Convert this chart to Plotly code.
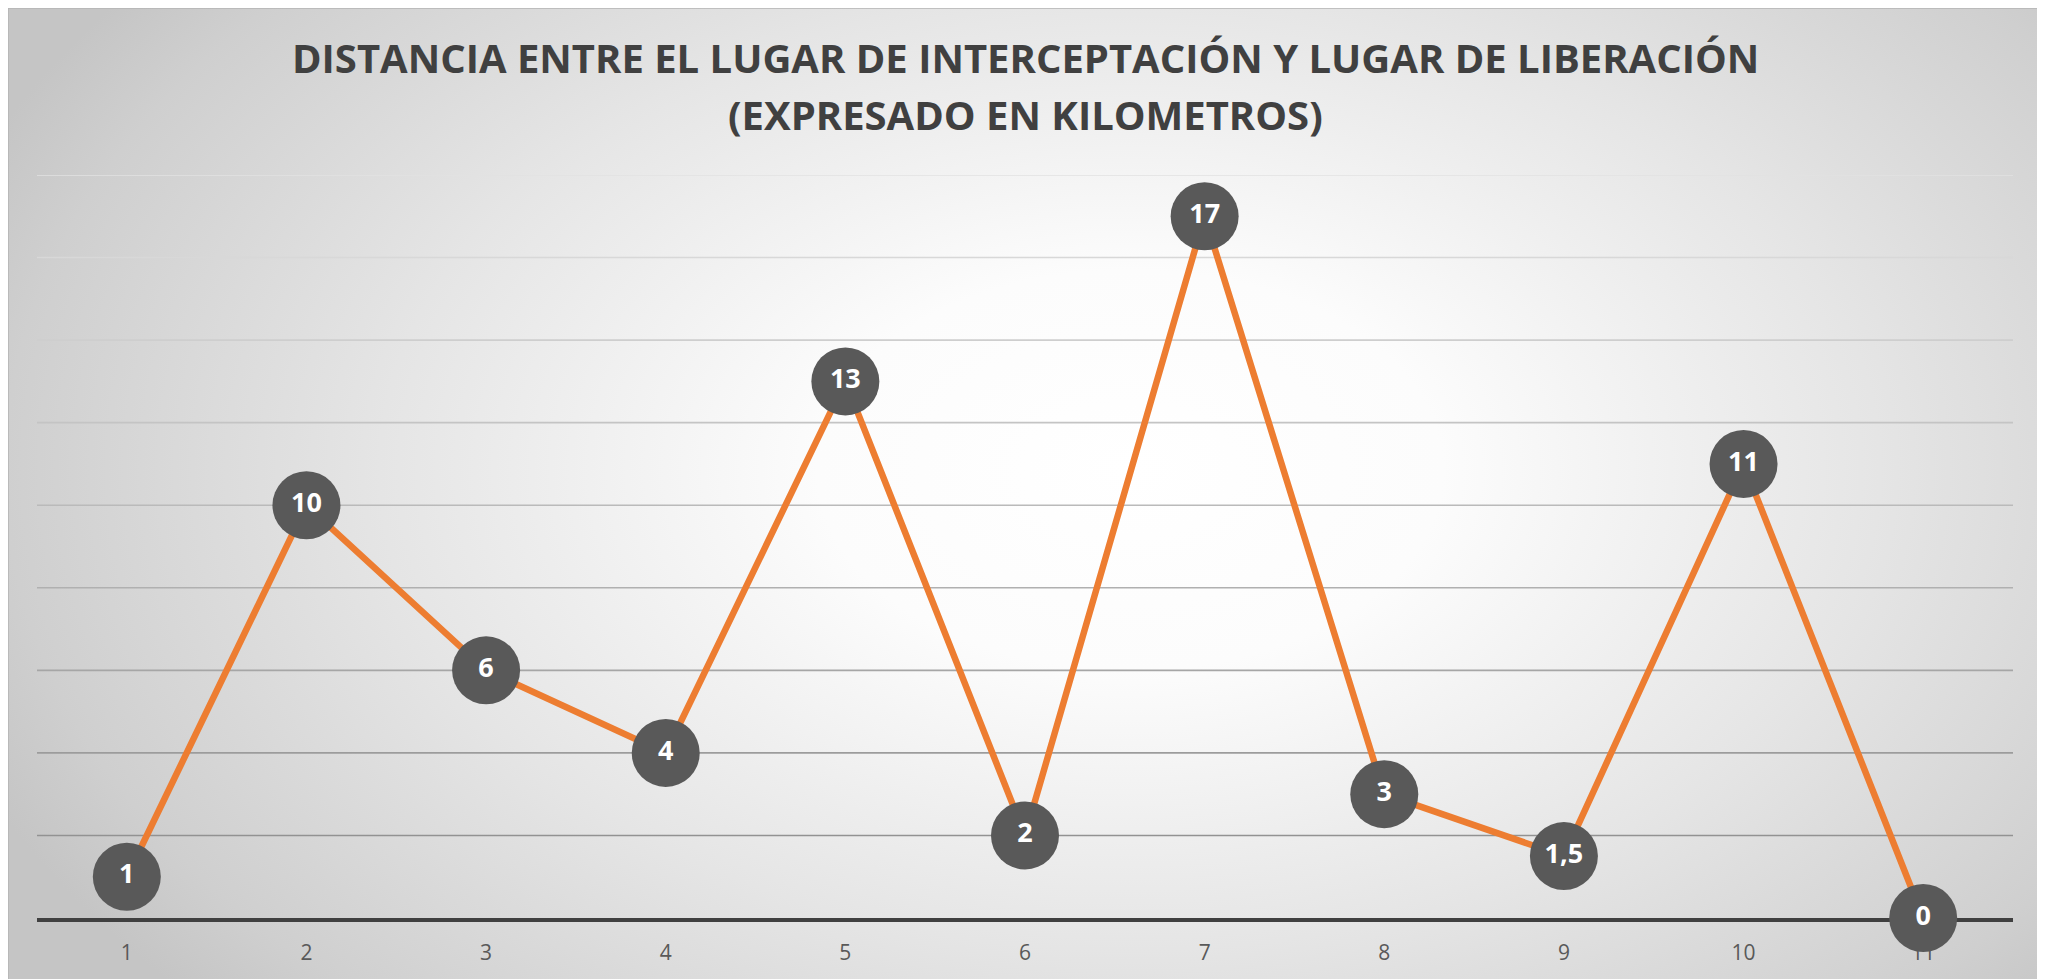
import base64
import plotly.graph_objects as go

# ---- data ----
categories = [1, 2, 3, 4, 5, 6, 7, 8, 9, 10, 11]
distances_km = [1, 10, 6, 4, 13, 2, 17, 3, 1.5, 11, 0]
title_line1 = "DISTANCIA ENTRE EL LUGAR DE INTERCEPTACIÓN Y LUGAR DE LIBERACIÓN"
title_line2 = "(EXPRESADO EN KILOMETROS)"
y_grid_values = list(range(2, 19, 2))

# ---- layout geometry (page has 8px body margin) ----
OFF = 8
W, H = 2045 - OFF, 979 - OFF
ML, MT = 37 - OFF, 175 - OFF
PLOT_RIGHT, PLOT_BOTTOM = 2013 - OFF, 918 - OFF
MR, MB = W - PLOT_RIGHT, H - PLOT_BOTTOM
PW, PH = W - ML - MR, H - MT - MB

cx, cy = 1130 - OFF, 470 - OFF
svg = f'''<svg xmlns="http://www.w3.org/2000/svg" width="{W}" height="{H}" viewBox="0 0 {W} {H}">
<defs><radialGradient id="g" gradientUnits="userSpaceOnUse" cx="{cx}" cy="{cy}" r="1250"
 gradientTransform="translate({cx} {cy}) scale(1 0.64) translate({-cx} {-cy})">
<stop offset="0" stop-color="#ffffff"/>
<stop offset="0.25" stop-color="#fcfcfc"/>
<stop offset="0.6" stop-color="#e5e5e5"/>
<stop offset="0.9" stop-color="#cfcfcf"/>
<stop offset="1" stop-color="#c5c5c5"/>
</radialGradient></defs>
<rect x="0" y="0" width="{W}" height="{H}" fill="#ffffff"/>
<rect x="0" y="0" width="{2040 - OFF}" height="{H + 20}" fill="url(#g)" stroke="#b4b4b4" stroke-width="1.5"/>
</svg>'''
bg_src = "data:image/svg+xml;base64," + base64.b64encode(svg.encode()).decode()

fig = go.Figure()
fig.add_trace(go.Scatter(
    x=categories, y=distances_km,
    mode="lines+markers+text",
    line=dict(color="#ED7D31", width=6.5),
    marker=dict(size=68, color="#595959", line=dict(width=0)),
    texttemplate="%{y}",
    textposition="middle center",
    textfont=dict(family="Open Sans", size=27, color="#ffffff", weight="bold"),
    cliponaxis=False,
    hoverinfo="skip",
))

def lerp(a, b, t):
    return int(round(a + (b - a) * t))

shapes = []
for v in y_grid_values:
    t = (v - 2) / 16
    c = lerp(0x92, 0xe2, t)
    shapes.append(dict(type="line", xref="paper", yref="y", x0=0, x1=1, y0=v, y1=v,
                       line=dict(color=f"rgb({c},{c},{c})", width=1.6), layer="below"))

def py(page_px):
    return (H - MB - (page_px - OFF)) / PH

annotations = [
    dict(text=title_line1, x=0.5, xref="paper", y=py(57), yref="paper",
         xanchor="center", yanchor="middle", showarrow=False,
         font=dict(family="Open Sans", size=40, color="#404040", weight="bold")),
    dict(text=title_line2, x=0.5, xref="paper", y=py(115), yref="paper",
         xanchor="center", yanchor="middle", showarrow=False,
         font=dict(family="Open Sans", size=40, color="#404040", weight="bold")),
]

fig.update_layout(
    width=W, height=H,
    margin=dict(l=ML, r=MR, t=MT, b=MB, pad=0),
    paper_bgcolor="rgba(0,0,0,0)",
    plot_bgcolor="rgba(0,0,0,0)",
    separators=",.",
    showlegend=False,
    shapes=shapes,
    annotations=annotations,
    images=[dict(source=bg_src, xref="paper", yref="paper",
                 x=-ML / PW, y=1 + MT / PH, sizex=W / PW, sizey=H / PH,
                 xanchor="left", yanchor="top", sizing="stretch", layer="below")],
    xaxis=dict(range=[0.5, 11.5], tickvals=categories, ticktext=[str(c) for c in categories],
               showgrid=False, zeroline=False, showline=True, linecolor="#404040", linewidth=4,
               ticks="", ticklabelstandoff=13, layer="below traces",
               tickfont=dict(family="Open Sans", size=21, color="#595959")),
    yaxis=dict(range=[0, 18], showgrid=False, zeroline=False, showticklabels=False,
               showline=False, ticks=""),
)

fig.write_html("out.html")
